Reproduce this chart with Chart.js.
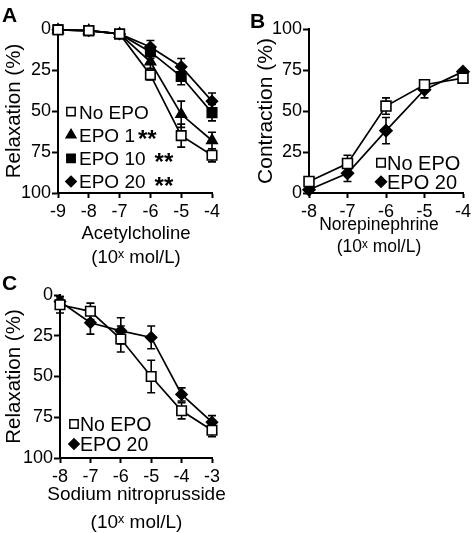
<!DOCTYPE html>
<html><head><meta charset="utf-8">
<script src="https://cdn.jsdelivr.net/npm/chart.js@4.4.1/dist/chart.umd.min.js"></script>
<style>
html,body{margin:0;padding:0;background:#fff;width:475px;height:533px;overflow:hidden;}
canvas{position:absolute;}
.lbl{position:absolute;font:bold 21px "Liberation Sans",Arial,Helvetica,sans-serif;line-height:21px;color:#000;}
</style></head><body>
<canvas id="cA" width="235" height="270" style="left:0;top:0"></canvas>
<canvas id="cB" width="240" height="270" style="left:235px;top:0"></canvas>
<canvas id="cC" width="235" height="265" style="left:0;top:268px"></canvas>
<div class="lbl" style="left:2px;top:4px">A</div>
<div class="lbl" style="left:250px;top:10px">B</div>
<div class="lbl" style="left:2px;top:272px">C</div>
<script>
// ---- Panel A: Acetylcholine (relaxation %) ----
const achDoses = [-9, -8, -7, -6, -5, -4];
const achNoEpo = [0.5, 1, 3, 28, 65, 77];
const achNoEpoErr = [1, 1, 1, 3, 7, 4];
const achEpo1 = [0.5, 1, 3, 20, 52, 68];
const achEpo1Err = [1, 1, 1, 4, 8, 5];
const achEpo10 = [0.5, 1, 3, 14, 29, 51];
const achEpo10Err = [1, 1, 1, 4, 5, 5];
const achEpo20 = [0.5, 1, 3, 11, 23, 44];
const achEpo20Err = [1, 1, 1, 4, 5, 5];

// ---- Panel B: Norepinephrine (contraction %) ----
const neDoses = [-8, -7, -6, -5, -4];
const neNoEpo = [7, 18, 53, 66, 70];
const neNoEpoErr = [2, 5, 5, 2, 2];
const neEpo20 = [2, 12, 38, 63, 74];
const neEpo20Err = [1, 5, 8, 5, 1];

// ---- Panel C: Sodium nitroprusside (relaxation %) ----
const snpDoses = [-8, -7, -6, -5, -4, -3];
const snpNoEpo = [6, 10, 27, 50, 71, 83];
const snpNoEpoErr = [5, 5, 8, 10, 5, 4];
const snpEpo20 = [4, 17, 22, 26, 61, 78];
const snpEpo20Err = [3, 7, 8, 7, 4, 4];

const yTicks = [0, 25, 50, 75, 100];

const FONT = '"Liberation Sans", Arial, Helvetica, sans-serif';
Chart.defaults.font.family = FONT;
Chart.defaults.color = '#000';

function pts(xs, ys) { return xs.map((x, i) => ({x: x, y: ys[i]})); }

const errorBars = {
  id: 'errorBars',
  beforeDatasetsDraw(chart) {
    const ctx = chart.ctx, xs = chart.scales.x, ys = chart.scales.y;
    chart.data.datasets.forEach(ds => {
      if (!ds.errors) return;
      ctx.save();
      ctx.strokeStyle = '#000';
      ctx.lineWidth = 1.6;
      ds.data.forEach((p, j) => {
        const e = ds.errors[j];
        if (!e) return;
        const x = xs.getPixelForValue(p.x);
        const y1 = ys.getPixelForValue(p.y - e);
        const y2 = ys.getPixelForValue(p.y + e);
        ctx.beginPath();
        ctx.moveTo(x, y1); ctx.lineTo(x, y2);
        ctx.moveTo(x - 4, y1); ctx.lineTo(x + 4, y1);
        ctx.moveTo(x - 4, y2); ctx.lineTo(x + 4, y2);
        ctx.stroke();
      });
      ctx.restore();
    });
  }
};

function makeLegend(cfg) {
  return {
    id: 'inLegend',
    afterDatasetsDraw(chart) {
      const ctx = chart.ctx, area = chart.chartArea;
      cfg.items.forEach((it, k) => {
        const ds = chart.data.datasets[it.ds];
        const mx = area.left + cfg.dx;
        const my = area.top + cfg.dy + k * cfg.gap;
        ctx.save();
        ctx.fillStyle = ds.pointBackgroundColor;
        ctx.strokeStyle = '#000';
        ctx.lineWidth = 1.5;
        Chart.helpers.drawPoint(ctx, {pointStyle: ds.pointStyle, radius: it.r, borderWidth: 1.5, rotation: 0}, mx, my);
        ctx.fillStyle = '#000';
        ctx.textBaseline = 'alphabetic';
        ctx.textAlign = 'left';
        ctx.font = cfg.size + 'px ' + FONT;
        const tx = mx + cfg.textGap;
        const base = my + cfg.size * 0.358;
        ctx.fillText(ds.label, tx, base);
        if (it.stars) {
          const w = ctx.measureText(ds.label).width;
          ctx.font = 'bold 24px ' + FONT;
          ctx.fillText('**', tx + w + it.starGap, my + 12);
        }
        ctx.restore();
      });
    }
  };
}

// x-axis title drawn as text below the scale (so it is not squeezed to the axis width)
function makeXTitle(cfg) {
  return {
    id: 'xTitle',
    afterDraw(chart) {
      const ctx = chart.ctx, area = chart.chartArea;
      const cx = (area.left + area.right) / 2 + cfg.dx;
      ctx.save();
      ctx.fillStyle = '#000';
      ctx.textAlign = 'center';
      ctx.textBaseline = 'alphabetic';
      ctx.font = cfg.size + 'px ' + FONT;
      cfg.lines.forEach((t, i) => ctx.fillText(t, cx, area.bottom + cfg.dy[i]));
      ctx.restore();
    }
  };
}

function axisCfg(opts) {
  return {
    type: 'linear',
    min: opts.min, max: opts.max,
    reverse: !!opts.reverse,
    afterFit: opts.fit,
    afterBuildTicks: opts.tickList ? (s => { s.ticks = opts.tickList.map(v => ({value: v})); }) : undefined,
    border: {display: true, color: '#000', width: 2},
    grid: {display: true, drawOnChartArea: false, drawTicks: true, tickLength: opts.tickLength, tickColor: '#000', tickWidth: 2},
    ticks: {stepSize: opts.step, padding: opts.tickPad, color: '#000', font: {size: 18}},
    title: opts.title ? {display: true, text: opts.title, color: '#000', font: {size: opts.titleSize}, padding: opts.titlePad} : {display: false}
  };
}

function ds(label, xs, ys, errs, style, fill, r) {
  return {
    label: label,
    data: pts(xs, ys),
    errors: errs,
    borderColor: '#000', borderWidth: 1.7, tension: 0,
    pointStyle: style, pointRadius: r, pointHoverRadius: r,
    pointBackgroundColor: fill, pointBorderColor: '#000', pointBorderWidth: 1.6,
    clip: false
  };
}

function makeChart(id, datasets, xo, yo, pad, legendCfg, xTitleCfg) {
  return new Chart(document.getElementById(id), {
    type: 'line',
    data: {datasets: datasets},
    options: {
      responsive: false, animation: false, devicePixelRatio: 1,
      layout: {padding: pad},
      plugins: {legend: {display: false}, tooltip: {enabled: false}},
      scales: {x: axisCfg(xo), y: axisCfg(yo)}
    },
    plugins: [errorBars, makeLegend(legendCfg), makeXTitle(xTitleCfg)]
  });
}

const unitLabel = '(10\u02E3 mol/L)';

// Panel A
makeChart('cA', [
  ds('No EPO', achDoses, achNoEpo, achNoEpoErr, 'rect', '#fff', 6.7),
  ds('EPO 1', achDoses, achEpo1, achEpo1Err, 'triangle', '#000', 6),
  ds('EPO 10', achDoses, achEpo10, achEpo10Err, 'rect', '#000', 6.7),
  ds('EPO 20', achDoses, achEpo20, achEpo20Err, 'rectRot', '#000', 5.5)
],
{min: -9, max: -4, step: 1, tickLength: 5, tickPad: 3, fit: s => { s.height = 77; }},
{min: 0, max: 100, step: 25, reverse: true, tickList: yTicks, tickLength: 6, tickPad: 1, title: 'Relaxation (%)', titleSize: 20.5, titlePad: {top: 2, bottom: 0}, fit: s => { s.width = 58; }},
{top: 29, right: 23, bottom: 0, left: 0},
{dx: 13, dy: 82.7, gap: 23.3, textGap: 8, size: 19, items: [
  {ds: 0, r: 5.9}, {ds: 1, r: 5.6, stars: true, starGap: 3}, {ds: 2, r: 5.9, stars: true, starGap: 9}, {ds: 3, r: 5.2, stars: true, starGap: 9}
]},
{lines: ['Acetylcholine', unitLabel], size: 18.5, dx: 1, dy: [45.5, 69.5]});

// Panel B
makeChart('cB', [
  ds('No EPO', neDoses, neNoEpo, neNoEpoErr, 'rect', '#fff', 7),
  ds('EPO 20', neDoses, neEpo20, neEpo20Err, 'rectRot', '#000', 6)
],
{min: -8, max: -4, step: 1, tickLength: 5, tickPad: 3, fit: s => { s.height = 77; }},
{min: 0, max: 100, step: 25, tickList: yTicks, tickLength: 6, tickPad: 1, title: 'Contraction (%)', titleSize: 21, titlePad: {top: 19, bottom: 0}, fit: s => { s.width = 74; }},
{top: 29, right: 12, bottom: 0, left: 0},
{dx: 72, dy: 133.7, gap: 19, textGap: 6, size: 20, items: [{ds: 0, r: 6}, {ds: 1, r: 5.5}]},
{lines: ['Norepinephrine', unitLabel], size: 17.5, dx: -7, dy: [37, 58.5]});

// Panel C
makeChart('cC', [
  ds('No EPO', snpDoses, snpNoEpo, snpNoEpoErr, 'rect', '#fff', 6.7),
  ds('EPO 20', snpDoses, snpEpo20, snpEpo20Err, 'rectRot', '#000', 5.5)
],
{min: -8, max: -3, step: 1, tickLength: 5, tickPad: 3, fit: s => { s.height = 75; }},
{min: 0, max: 100, step: 25, reverse: true, tickList: yTicks, tickLength: 6, tickPad: 1, title: 'Relaxation (%)', titleSize: 20.5, titlePad: {top: 2, bottom: 0}, fit: s => { s.width = 60; }},
{top: 27, right: 23, bottom: 0, left: 0},
{dx: 14, dy: 129, gap: 20, textGap: 6, size: 19.5, items: [{ds: 0, r: 5.9}, {ds: 1, r: 5.2}]},
{lines: ['Sodium nitroprusside', unitLabel], size: 19, dx: 0.5, dy: [42, 69.5]});
</script>
</body></html>
